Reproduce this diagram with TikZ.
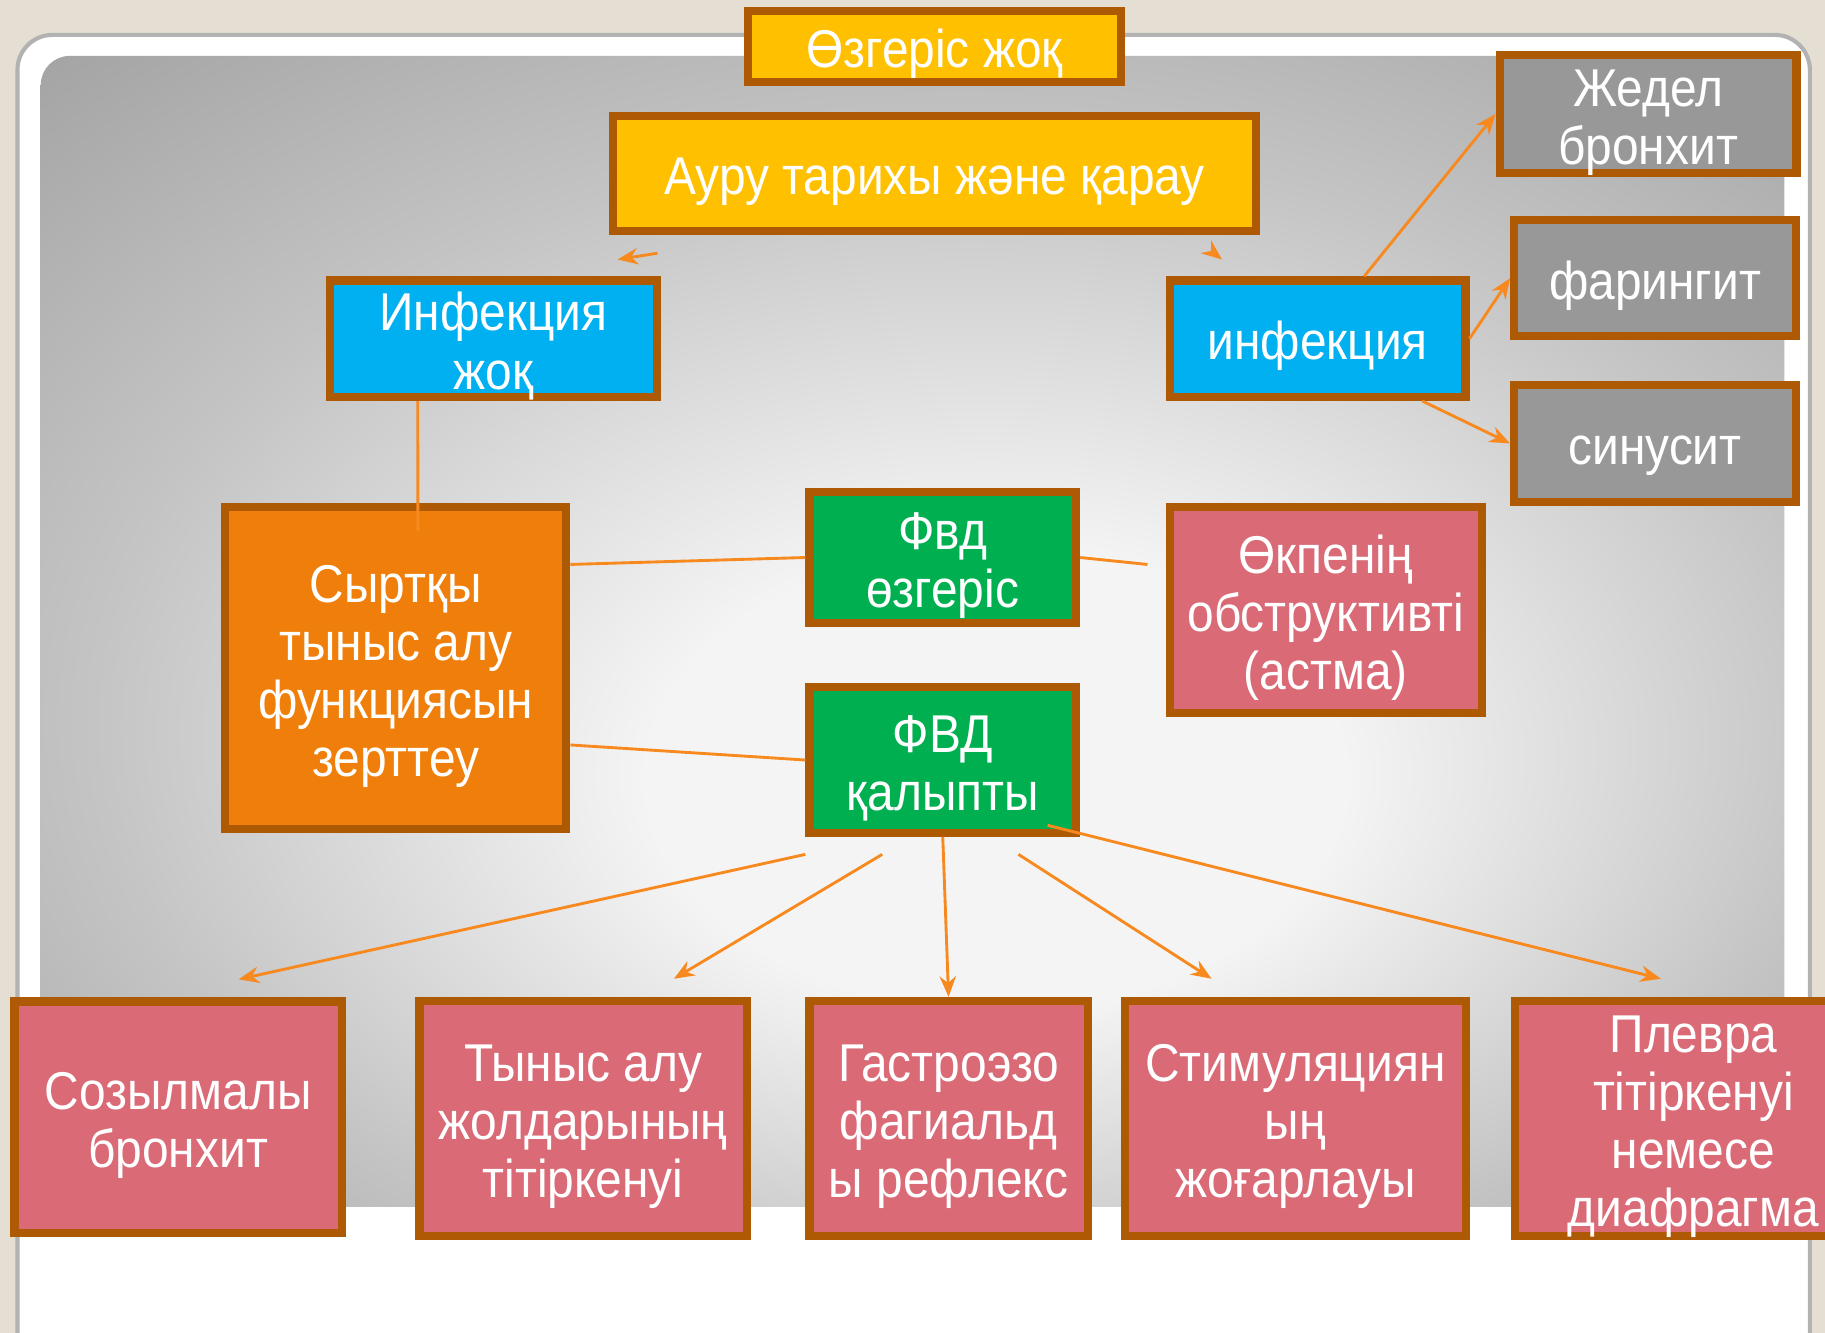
\documentclass[tikz,border=0pt]{standalone}
\usepackage{fontspec}
\setmainfont{Liberation Sans}[FakeStretch=0.9]
\usetikzlibrary{arrows.meta}
\definecolor{brdr}{HTML}{AE5A05}
\definecolor{yel}{HTML}{FFC000}
\definecolor{blu}{HTML}{00B0F0}
\definecolor{gry}{HTML}{989898}
\definecolor{orn}{HTML}{EF7F0A}
\definecolor{grn}{HTML}{00B050}
\definecolor{pnk}{HTML}{D96A76}
\definecolor{lnk}{HTML}{F7891E}
\definecolor{beige}{HTML}{E4DED3}
\definecolor{pnlA}{HTML}{F4F4F4}
\definecolor{pnlB}{HTML}{C4C4C4}
\definecolor{pnlC}{HTML}{A2A2A2}
\pgfdeclareradialshading{panel}{\pgfpoint{3bp}{-8bp}}{color(0bp)=(pnlA); color(10bp)=(pnlA); color(25bp)=(pnlB); color(38bp)=(pnlC); color(50bp)=(pnlC)}

\begin{document}
\begin{tikzpicture}
  [x=0.01cm,y=-0.01cm,
   every node/.style={draw=brdr,line width=2pt,text=white,align=center,inner sep=0pt,
     font=\fontsize{13}{14.2}\selectfont,text height=11.9pt,text depth=1.5pt},
   l2/.style={text height=26.1pt},
   l3/.style={text height=40.3pt},
   l4/.style={text height=54.5pt},
   link/.style={draw=lnk,line width=0.7pt},
   arr/.style={link,-{Stealth[length=5pt,width=4pt]}}]
  \useasboundingbox (0,0) rectangle (1568,1145);
  % slide background
  \fill[beige] (0,0) rectangle (1568,1145);
  \filldraw[fill=white,draw=gray!60,line width=1pt,rounded corners=0.3cm] (15,30) rectangle (1555,1175);
  \shade[shading=panel] (35,1037) -- (35,73) arc[start angle=180,end angle=90,radius=0.25cm]
    -- (1533,48) -- (1533,1037) -- cycle;

  \node[fill=yel,minimum width=3.20cm,minimum height=0.61cm] (n1) at (803,40) {Өзгеріс жоқ};
  \node[fill=yel,minimum width=5.52cm,minimum height=0.99cm] (n2) at (803,149) {Ауру тарихы және қарау};
  \node[fill=blu,l2,minimum width=2.81cm,minimum height=1.00cm] (n3) at (424,291) {Инфекция\\жоқ};
  \node[fill=blu,minimum width=2.54cm,minimum height=1.00cm] (n4) at (1132,291) {инфекция};
  \node[fill=gry,l2,minimum width=2.55cm,minimum height=1.01cm] (n5) at (1416,98) {Жедел\\бронхит};
  \node[fill=gry,minimum width=2.42cm,minimum height=1.00cm] (n6) at (1422,239) {фарингит};
  \node[fill=gry,minimum width=2.42cm,minimum height=1.00cm] (n7) at (1422,381) {синусит};
  \node[fill=orn,l4,minimum width=2.93cm,minimum height=2.77cm] (n8) at (340,574) {Сыртқы\\тыныс алу\\функциясын\\зерттеу};
  \node[fill=grn,l2,minimum width=2.29cm,minimum height=1.13cm] (n9) at (810,479) {Фвд\\өзгеріс};
  \node[fill=pnk,l3,minimum width=2.68cm,minimum height=1.77cm] (n10) at (1139,524) {Өкпенің\\обструктивті\\(астма)};
  \node[fill=grn,l2,minimum width=2.29cm,minimum height=1.25cm] (n11) at (810,653) {ФВД\\қалыпты};
  \node[fill=pnk,l2,minimum width=2.81cm,minimum height=1.99cm] (n12) at (153,960) {Созылмалы\\бронхит};
  \node[fill=pnk,l3,minimum width=2.81cm,minimum height=2.02cm] (n13) at (501,961) {Тыныс алу\\жолдарының\\тітіркенуі};
  \node[fill=pnk,l3,minimum width=2.39cm,minimum height=2.02cm] (n14) at (815,961) {Гастроэзо\\фагиальд\\ы рефлекс};
  \node[fill=pnk,l3,minimum width=2.93cm,minimum height=2.02cm] (n15) at (1113,961) {Стимуляциян\\ың\\жоғарлауы};
  \node[fill=pnk,l4,minimum width=3.07cm,minimum height=2.02cm] (n16) at (1455,961) {Плевра\\тітіркенуі\\немесе\\диафрагма};

  \draw[arr] ([xshift=-2.38cm,yshift=-0.155cm]n2.south) -- ([xshift=-0.375cm,yshift=0.145cm]n3.north east);
  \draw[arr] ([xshift=2.40cm,yshift=-0.155cm]n2.south) -- ([xshift=0.485cm,yshift=0.145cm]n4.north west);
  \draw[arr] ([xshift=0.40cm]n4.north) -- (n5.west);
  \draw[arr] (n4.east) -- (n6.west);
  \draw[arr] ([xshift=0.90cm]n4.south) -- (n7.west);
  \draw[link] ([xshift=-0.65cm]n3.south) -- ([xshift=0.19cm,yshift=-0.245cm]n8.north);
  \draw[link] ([yshift=0.89cm]n8.east) -- (n9.west);
  \draw[link] (n9.east) -- ([xshift=-0.155cm,yshift=0.39cm]n10.west);
  \draw[link] ([yshift=-0.66cm]n8.east) -- (n11.west);
  \draw[arr] ([yshift=-0.15cm]n11.south west) -- ([xshift=0.52cm,yshift=0.155cm]n12.north);
  \draw[arr] ([xshift=-0.52cm,yshift=-0.15cm]n11.south) -- ([xshift=0.78cm,yshift=0.155cm]n13.north);
  \draw[arr] (n11.south) -- (n14.north);
  \draw[arr] ([xshift=0.65cm,yshift=-0.15cm]n11.south) -- ([xshift=-0.72cm,yshift=0.155cm]n15.north);
  \draw[arr] ([xshift=0.90cm,yshift=0.10cm]n11.south) -- ([xshift=-0.28cm,yshift=0.155cm]n16.north);
\end{tikzpicture}
\end{document}
